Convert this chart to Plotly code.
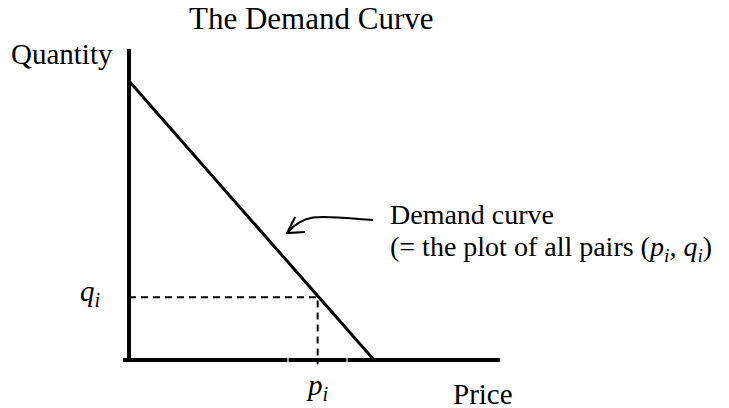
import plotly.graph_objects as go

# ── data (price / quantity units) ─────────────────────────────
DEMAND_PRICE = [0, 10]
DEMAND_QTY = [10, 0]
P_I = 7.7
Q_I = 2.25

# ── styles ────────────────────────────────────────────────────
FONT = "Liberation Serif, serif"
INK = "#000000"

# page body has an 8px margin -> figure is 721x400 and ranges start there
X_MIN, X_MAX = -4.94, 24.49
Y_MIN, Y_MAX = -1.72, 12.62
AXIS_X_END = 15.14
AXIS_Y_END = 11.15
AXIS_GAPS = [6.49, 8.9]   # small breaks in the price axis

fig = go.Figure()

# guide lines to the point (p_i, q_i)
fig.add_trace(go.Scatter(
    x=[0, P_I, P_I], y=[Q_I, Q_I, -0.15],
    mode="lines",
    line=dict(color=INK, width=2, dash="7px,5px"),
    hoverinfo="skip", showlegend=False,
))

# demand curve
fig.add_trace(go.Scatter(
    x=DEMAND_PRICE, y=DEMAND_QTY,
    mode="lines",
    line=dict(color=INK, width=3),
    hoverinfo="skip", showlegend=False,
))

# axes
fig.add_shape(type="line", x0=0, x1=0, y0=0, y1=AXIS_Y_END,
              line=dict(color=INK, width=4), layer="above")
fig.add_shape(type="line", x0=-0.245, x1=AXIS_X_END, y0=0, y1=0,
              line=dict(color=INK, width=4), layer="above")
for gx in AXIS_GAPS:
    fig.add_shape(type="line", x0=gx, x1=gx, y0=-0.09, y1=0.09,
                  line=dict(color="white", width=1.2), layer="above")

# curved pointer to the demand curve
fig.add_shape(type="path",
              path="M 9.96,5.02 C 7.8,5.16 7.2,5.3 6.49,4.59",
              line=dict(color=INK, width=2), layer="above")
fig.add_shape(type="path",
              path="M 6.78,5.13 L 6.45,4.55 L 7.18,4.59",
              line=dict(color=INK, width=2), layer="above")


def label(text, x, y, size=29, xanchor="center"):
    fig.add_annotation(
        x=x, y=y, text=text, showarrow=False,
        xanchor=xanchor, yanchor="middle",
        font=dict(family=FONT, size=size, color=INK),
    )


label("The Demand Curve", 7.43, 12.25, size=31)
label("Quantity", -2.73, 10.97)
label("Price", 14.45, -1.22)
label("<i>p<sub>i</sub></i>", P_I, -0.95)
label("<i>q<sub>i</sub></i>", -1.59, 2.4)
label("Demand curve", 10.57, 5.23, size=28, xanchor="left")
label("(= the plot of all pairs (<i>p<sub>i</sub></i>, <i>q<sub>i</sub></i>)",
      10.57, 4.0, size=28, xanchor="left")

fig.update_layout(
    width=721, height=400, autosize=False,
    margin=dict(l=0, r=0, t=0, b=0),
    paper_bgcolor="white", plot_bgcolor="white",
    xaxis=dict(range=[X_MIN, X_MAX], visible=False, fixedrange=True),
    yaxis=dict(range=[Y_MIN, Y_MAX], visible=False, fixedrange=True),
    showlegend=False,
)

fig.write_html("out.html")
